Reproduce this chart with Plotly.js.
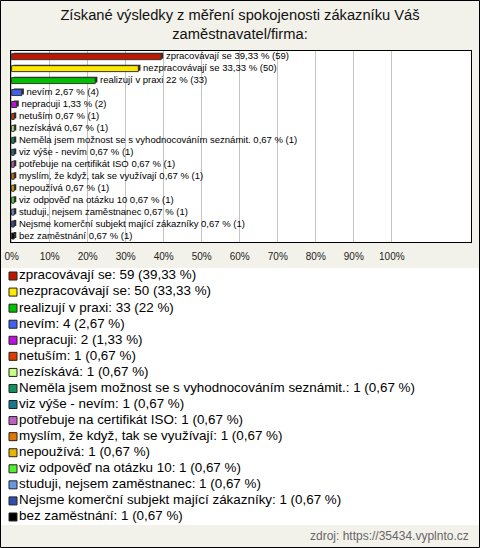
<!DOCTYPE html>
<html>
<head>
<meta charset="utf-8">
<script src="https://cdn.plot.ly/plotly-3.0.1.min.js"></script>
<style>
html,body{margin:0;padding:0;background:#f3f2ea;}
#chart{width:480px;height:548px;}
</style>
</head>
<body>
<div id="chart"></div>
<script>
const categories = [
  "zpracovávají se",
  "nezpracovávají se",
  "realizují v praxi",
  "nevím",
  "nepracuji",
  "netuším",
  "nezískává",
  "Neměla jsem možnost se s vyhodnocováním seznámit.",
  "viz výše - nevím",
  "potřebuje na certifikát ISO",
  "myslím, že když, tak se využívají",
  "nepoužívá",
  "viz odpověď na otázku 10",
  "studuji, nejsem zaměstnanec",
  "Nejsme komerční subjekt mající zákazníky",
  "bez zaměstnání"
];
const counts = [59, 50, 33, 4, 2, 1, 1, 1, 1, 1, 1, 1, 1, 1, 1, 1];
const percents = [39.33, 33.33, 22, 2.67, 1.33, 0.67, 0.67, 0.67, 0.67, 0.67, 0.67, 0.67, 0.67, 0.67, 0.67, 0.67];
const percentText = ["39,33", "33,33", "22", "2,67", "1,33", "0,67", "0,67", "0,67", "0,67", "0,67", "0,67", "0,67", "0,67", "0,67", "0,67", "0,67"];
const colors = ["#c01800", "#ffe800", "#00c000", "#4060f0", "#c010e0", "#e03c00", "#c8ff80", "#10905c",
                "#187890", "#c060c0", "#e07800", "#e8b400", "#50f030", "#6898e0", "#3050b0", "#000000"];
const tickVals = [0, 10, 20, 30, 40, 50, 60, 70, 80, 90, 100];
const tickText = ["0%", "10%", "20%", "30%", "40%", "50%", "60%", "70%", "80%", "90%", "100%"];
const sourceText = "zdroj: https://35434.vyplnto.cz";
const titleText = "Získané výsledky z měření spokojenosti zákazníku Váš<br>zaměstnavatel/firma:";

const barLabels = categories.map((c, i) => "\u00a0" + c + " " + percentText[i] + " % (" + counts[i] + ")");
const legendLabels = categories.map((c, i) => c + ": " + counts[i] + " (" + percentText[i] + " %)");
const legendIdx = categories.map((c, i) => i);

const FONT = "Liberation Sans, Arial, sans-serif";
const W = 480, H = 548;

const shadow = {
  type: "bar", orientation: "h",
  x: percents, y: categories,
  base: 0.55, width: 0.5, offset: -0.33,
  marker: {color: "#2a2a2a"},
  text: barLabels, textposition: "outside", constraintext: "none",
  textfont: {size: 9.5, family: FONT, color: "#000"},
  cliponaxis: false, hoverinfo: "skip", showlegend: false
};
const bars = {
  type: "bar", orientation: "h",
  x: percents, y: categories,
  width: 0.5, offset: -0.25,
  marker: {color: colors, line: {color: "#333", width: 1}},
  hoverinfo: "skip", showlegend: false
};
const legend = {
  type: "scatter", mode: "markers+text",
  xaxis: "x2", yaxis: "y2",
  x: legendIdx.map(() => 13), y: legendIdx,
  marker: {symbol: "square", size: 8, color: colors, line: {color: "#222", width: 1}},
  text: legendLabels, textposition: "middle right",
  textfont: {size: 13.4, family: FONT, color: "#000"},
  cliponaxis: false, hoverinfo: "skip", showlegend: false
};

const layout = {
  width: W, height: H,
  margin: {l: 0, r: 0, t: 0, b: 0, pad: 0, autoexpand: false},
  paper_bgcolor: "#f3f2ea",
  plot_bgcolor: "#ffffff",
  font: {family: FONT, color: "#000"},
  barmode: "overlay",
  showlegend: false,
  title: {
    text: titleText, x: 0.5, xanchor: "center", xref: "paper",
    y: 1 - 20 / H, yanchor: "top", yref: "container",
    font: {size: 14.7, family: FONT, color: "#111"}
  },
  xaxis: {
    domain: [10.5 / W, 470.5 / W],
    range: [-0.3, 120.7],
    tickvals: tickVals, ticktext: tickText,
    showgrid: true, gridcolor: "#c4c4c4", gridwidth: 1,
    showline: true, mirror: true, linecolor: "#000", linewidth: 1,
    zeroline: false, ticks: "", ticklabelstandoff: 5,
    tickfont: {size: 10, family: FONT, color: "#222"},
    fixedrange: true
  },
  yaxis: {
    domain: [1 - 242 / H, 1 - 50.7 / H],
    type: "category", autorange: "reversed",
    showticklabels: false, showgrid: false,
    showline: true, mirror: true, linecolor: "#000", linewidth: 1,
    zeroline: false, ticks: "", fixedrange: true
  },
  xaxis2: {domain: [0, 1], range: [0, W], visible: false, fixedrange: true, anchor: "y2"},
  yaxis2: {domain: [1 - 525 / H, 1 - 268 / H], range: [15.5, -0.5], visible: false, fixedrange: true, anchor: "x2"},
  annotations: [{
    text: sourceText, xref: "paper", yref: "paper",
    x: 471 / W, xanchor: "right", y: 1 - 536 / H, yanchor: "middle",
    showarrow: false, font: {size: 12, family: FONT, color: "#666"}
  }],
  shapes: [{
    type: "rect", xref: "paper", yref: "paper",
    x0: 0.5 / W, x1: 1 - 0.5 / W, y0: 0.5 / H, y1: 1 - 0.5 / H,
    line: {color: "#000", width: 1}, fillcolor: "rgba(0,0,0,0)", layer: "above"
  }]
};

Plotly.newPlot("chart", [shadow, bars, legend], layout, {staticPlot: true, displayModeBar: false});
</script>
</body>
</html>
